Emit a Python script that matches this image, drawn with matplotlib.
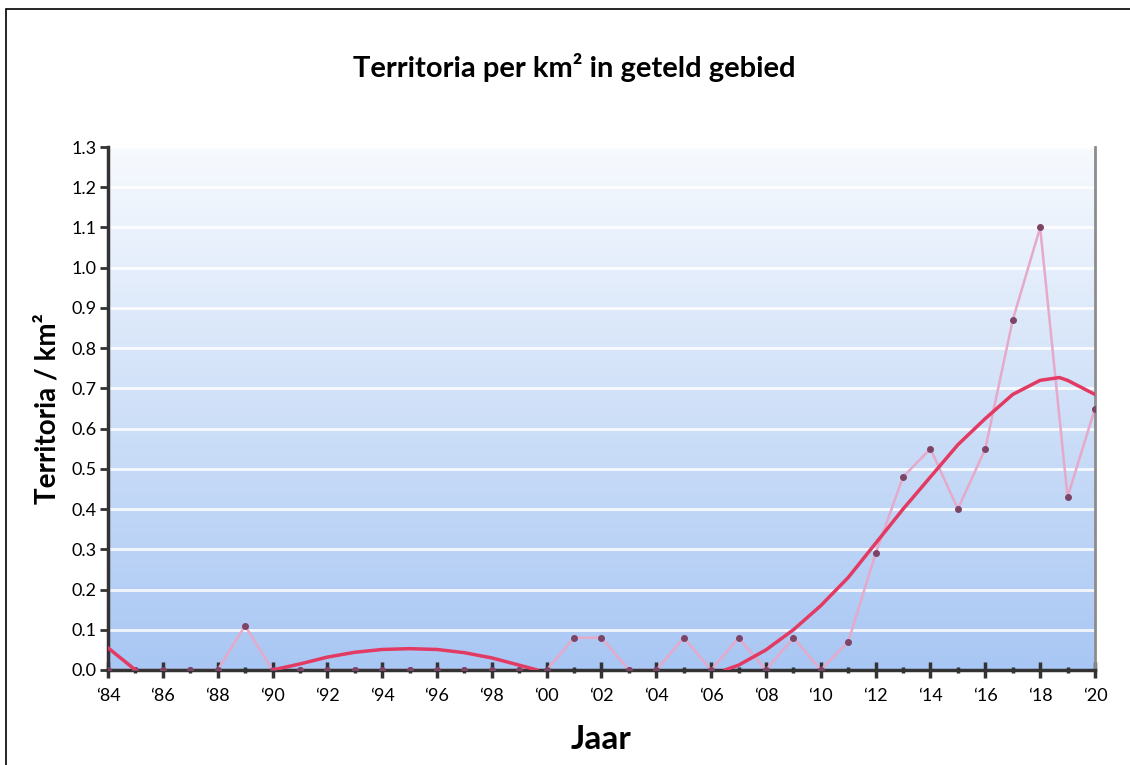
import numpy as np
import matplotlib.pyplot as plt
from matplotlib.colors import LinearSegmentedColormap

# data: territoria per km2, per jaar
jaren = np.arange(1984, 2021)
waarden = [0.0, 0.0, 0.0, 0.0, 0.0, 0.11, 0.0, 0.0, 0.0, 0.0,
           0.0, 0.0, 0.0, 0.0, 0.0, 0.0, 0.0, 0.08, 0.08, 0.0,
           0.0, 0.08, 0.0, 0.08, 0.0, 0.08, 0.0, 0.07, 0.29, 0.48,
           0.55, 0.40, 0.55, 0.87, 1.10, 0.43, 0.65]

nan = np.nan
trend_jaar = [1984, 1985, nan,
              1990, 1991, 1992, 1993, 1994, 1995, 1996, 1997, 1998, 1999, 1999.65, nan,
              2006.5, 2007, 2008, 2009, 2010, 2011, 2012, 2013, 2014, 2015, 2016,
              2017, 2018, 2018.7, 2019, 2020]
trend_waarde = [0.055, 0.0, nan,
                0.0, 0.015, 0.032, 0.044, 0.051, 0.053, 0.051, 0.043, 0.03, 0.012, 0.0, nan,
                0.0, 0.012, 0.05, 0.10, 0.16, 0.23, 0.315, 0.40, 0.48, 0.56, 0.625,
                0.685, 0.72, 0.727, 0.72, 0.685]

xticks = np.arange(1984, 2021, 2)
xticklabels = ["\u2018%02d" % (j % 100) for j in xticks]
yticks = np.round(np.arange(0, 1.31, 0.1), 1)

plt.rcParams['font.family'] = ['Lato', 'DejaVu Sans']

fig = plt.figure(figsize=(11.3, 7.65), dpi=100)
ax = fig.add_axes([0.0956, 0.1242, 0.8734, 0.6836])

# achtergrond met verloop
cmap = LinearSegmentedColormap.from_list('bg', ['#a9c7f4', '#cfe0f8', '#f7fafe'])
grad = np.linspace(0, 1, 256).reshape(-1, 1)
ax.imshow(grad, aspect='auto', cmap=cmap, origin='lower',
          extent=[1984, 2020, 0, 1.3], zorder=0)

for y in yticks[1:]:
    ax.axhline(y, color='white', lw=2, alpha=0.85, zorder=1)

# meetwaarden
ax.plot(jaren, waarden, color='#e6a9c9', lw=1.8, zorder=2)
ax.plot(jaren, waarden, 'o', color='#7d4466', ms=4, zorder=3)

# trendlijn
ax.plot(trend_jaar, trend_waarde, color='#e23a63', lw=2.5, zorder=4,
        solid_joinstyle='round', solid_capstyle='round')

ax.set_xlim(1984, 2020)
ax.set_ylim(0, 1.3)
ax.set_xticks(xticks)
ax.set_xticklabels(xticklabels, fontsize=13)
ax.set_xticks(np.arange(1985, 2020, 2), minor=True)
ax.set_yticks(yticks)
ax.set_yticklabels(['%.1f' % v for v in yticks], fontsize=13)
ax.tick_params(axis='x', which='major', direction='inout', length=12, width=2.5, color='#333333', pad=7)
ax.tick_params(axis='x', which='minor', direction='inout', length=4, width=2.5, color='#333333')
ax.tick_params(axis='y', direction='out', length=6, width=2, color='#333333', pad=2)

ax.spines['top'].set_visible(False)
ax.spines['left'].set_color('#333333')
ax.spines['left'].set_linewidth(2.5)
ax.spines['bottom'].set_color('#333333')
ax.spines['bottom'].set_linewidth(2.5)
ax.spines['right'].set_color('#8c8c8c')
ax.spines['right'].set_linewidth(2)

ax.set_xlabel('Jaar', fontsize=24, fontweight='bold', labelpad=15)
ax.set_ylabel('Territoria / km\u00b2', fontsize=20, fontweight='bold', labelpad=8)
fig.text(0.508, 0.912, 'Territoria per km\u00b2 in geteld gebied', fontsize=21,
         fontweight='bold', ha='center', va='center')

# rand om de figuur
fig.add_artist(plt.Rectangle((0.0053, -0.01), 1.1, 0.998, transform=fig.transFigure,
                             fill=False, edgecolor='black', lw=1.2))

fig.savefig('out.png', dpi=100)
